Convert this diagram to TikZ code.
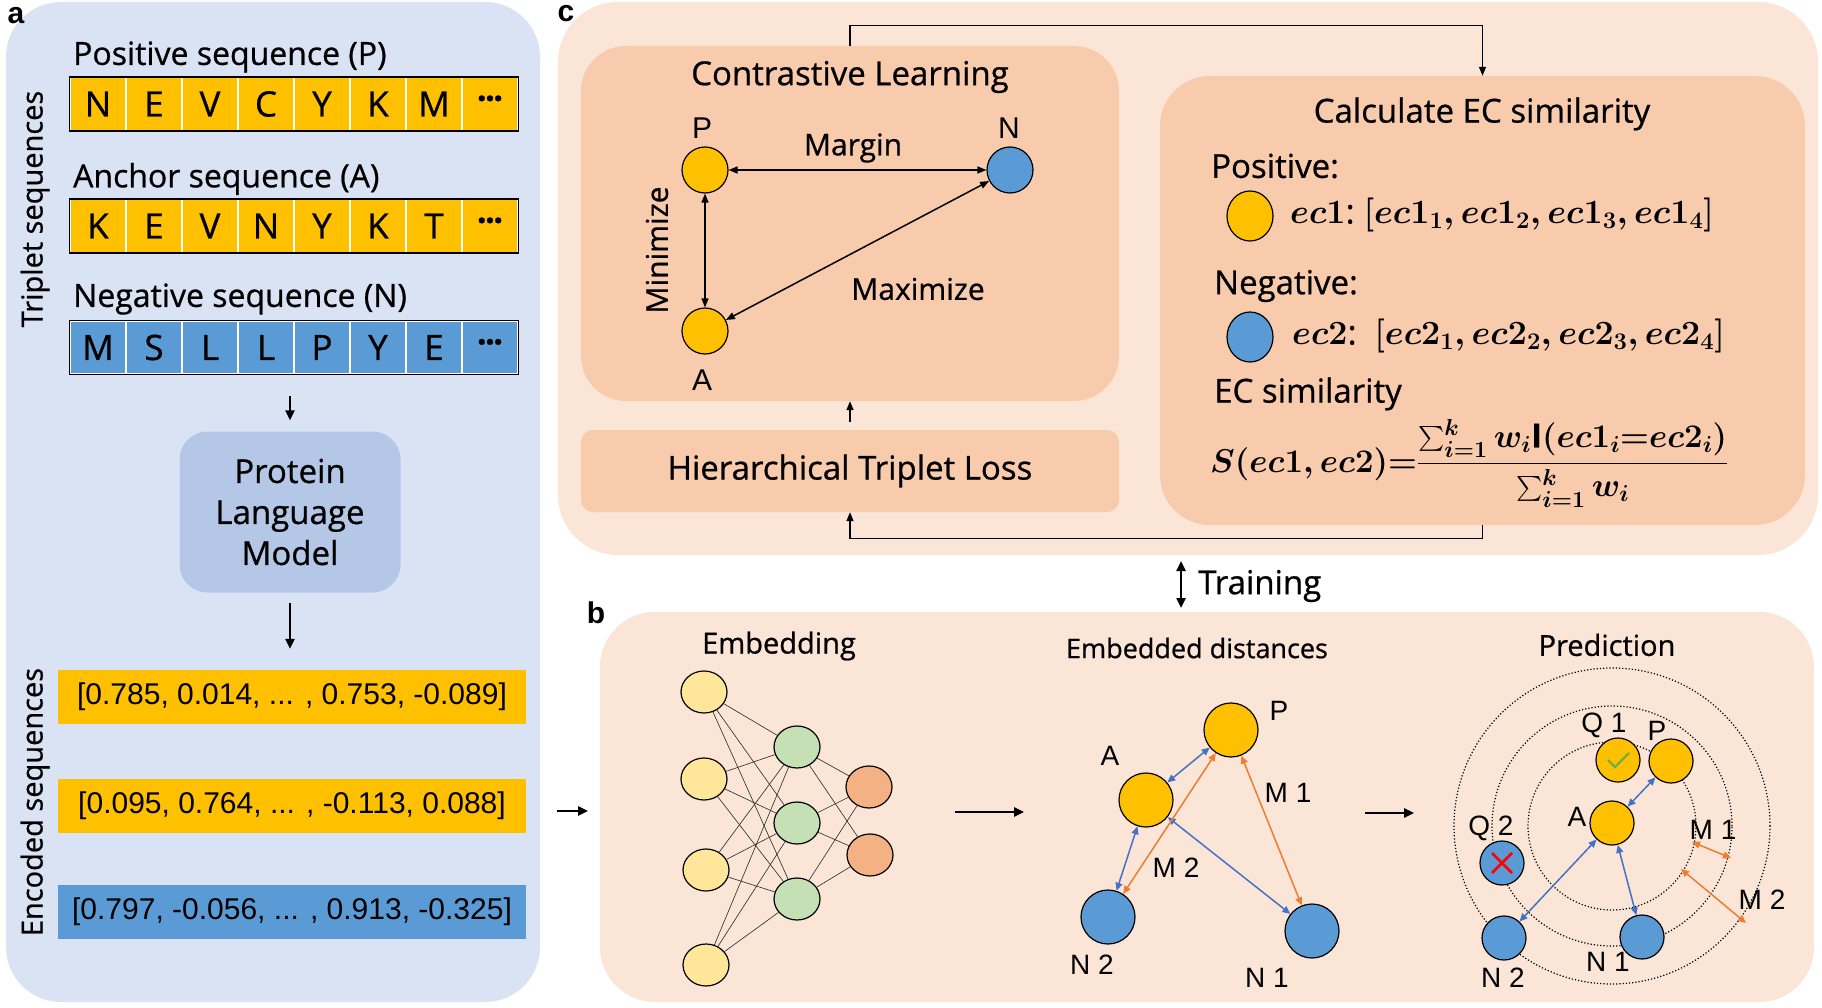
\RequirePackage{fix-cm}
\documentclass[tikz,border=0pt]{standalone}
\usepackage{exscale}
\usepackage{fontspec}
\setmainfont{Open Sans}[FakeBold=0.7]
\newfontfamily\arialf{Liberation Sans}
\usetikzlibrary{arrows.meta,calc,shapes.geometric}
\definecolor{bgblue}{HTML}{DAE3F3}
\definecolor{plmblue}{HTML}{B4C7E7}
\definecolor{seqyellow}{HTML}{FFC000}
\definecolor{seqblue}{HTML}{5B9BD5}
\definecolor{bgpeach}{HTML}{FBE5D6}
\definecolor{boxpeach}{HTML}{F8CBAD}
\definecolor{arrorange}{HTML}{ED7D31}
\definecolor{arrblue}{HTML}{4472C4}
\definecolor{nnyellow}{HTML}{FFE699}
\definecolor{nngreen}{HTML}{C5E0B4}
\definecolor{nnorange}{HTML}{F4B183}
\definecolor{chkgreen}{HTML}{70AD47}
\newcommand\myfs[2]{\fontsize{#1}{#2}\selectfont}
\newcommand\mydots{\raisebox{0.05em}{\textbf{·\kern-0.05em·\kern-0.05em·}}}
\newcommand\econe{$ec1$:\ $[ec1_1, ec1_2, ec1_3, ec1_4]$}
\newcommand\ectwo{$ec2$:\ \ $[ec2_1, ec2_2, ec2_3, ec2_4]$}
\newcommand\ecform{$\smash{\displaystyle S(ec1,ec2){=}\frac{\sum_{i=1}^{k} w_i\mathrm{I}(ec1_i{=}ec2_i)}{\sum_{i=1}^{k} w_i}}$}
\begin{document}
\begin{tikzpicture}[x=1pt,y=-1pt,
  seqcell/.style={minimum width=56pt,minimum height=53pt,draw=white,line width=1.2pt,inner sep=0pt,font=\myfs{35}{40}},
  ttl/.style={inner sep=0pt,font=\myfs{32}{38}},
  vtl/.style={inner sep=0pt,font=\myfs{29}{34},rotate=90},
  btl/.style={inner sep=0pt,font=\myfs{29}{34}},
  lab/.style={inner sep=0pt,font=\arialf\myfs{30}{34}},
  slab/.style={inner sep=0pt,font=\arialf\myfs{28}{32}},
  plab/.style={inner sep=0pt,font=\arialf\bfseries\myfs{30}{34}},
  mathlab/.style={inner sep=0pt,anchor=west,font=\myfs{34}{40}\mathversion{bold}},
  encbox/.style={minimum width=468pt,minimum height=54pt,inner sep=0pt,font=\arialf\myfs{30}{36}},
  circ/.style={circle,draw=black,line width=1.2pt,minimum size=46pt,inner sep=0pt},
  ecirc/.style={circle,draw=black,line width=1.2pt,minimum size=54pt,inner sep=0pt},
  pcirc/.style={circle,draw=black,line width=1.2pt,minimum size=44pt,inner sep=0pt},
  nnode/.style={ellipse,draw=black,line width=1.2pt,minimum width=46pt,minimum height=42pt,inner sep=0pt},
  nnline/.style={line width=0.6pt,black!85},
  thickarr/.style={line width=2.4pt,-{Triangle[length=10pt,width=9pt]}},
  arr1/.style={line width=1.4pt,-{Triangle[length=9pt,width=7pt]}},
  darr/.style={line width=1.5pt,{Triangle[length=9pt,width=7pt]}-{Triangle[length=9pt,width=7pt]}},
  barr/.style={line width=1.5pt,arrblue,{Triangle[length=8pt,width=7pt]}-{Triangle[length=8pt,width=7pt]}},
  oarr/.style={line width=1.5pt,arrorange,{Triangle[length=8pt,width=7pt]}-{Triangle[length=8pt,width=7pt]}},
  dotc/.style={line width=1.2pt,dotted}
]
\useasboundingbox (0,0) rectangle (1822,1008);
\fill[white] (0,0) rectangle (1822,1008);

% ================= panel a =================
\fill[bgblue,rounded corners=55pt] (6,2) rectangle (540,1002);
\node[plab] (la) at (16,16) {a};
\node[vtl] (trip) at (35,209) {Triplet sequences};

\node[ttl,anchor=west] (ptitle) at (73,57) {Positive sequence (P)};
\foreach \l [count=\i] in {N,E,V,C,Y,K,M,\mydots}
  \node[seqcell,fill=seqyellow] (p\i) at ({42+56*\i},104) {\l};
\draw[line width=1.4pt] (p1.north west) rectangle (p8.south east);

\node[ttl,anchor=west] (atitle) at (73,179) {Anchor sequence (A)};
\foreach \l [count=\i] in {K,E,V,N,Y,K,T,\mydots}
  \node[seqcell,fill=seqyellow] (a\i) at ({42+56*\i},226) {\l};
\draw[line width=1.4pt] (a1.north west) rectangle (a8.south east);

\node[ttl,anchor=west] (ntitle) at (73,299) {Negative sequence (N)};
\foreach \l [count=\i] in {M,S,L,L,P,Y,E,\mydots}
  \node[seqcell,fill=seqblue] (n\i) at ({42+56*\i},347.5) {\l};
\draw[line width=1.4pt] (n1.north west) rectangle (n8.south east);

\node[rounded corners=28pt,fill=plmblue,minimum width=221pt,minimum height=161pt,align=center,font=\myfs{33}{41}] (plm) at (290,512) {Protein\\Language\\Model};
\draw[thickarr,shorten <=21pt,shorten >=11pt] (plm.north |- n4.south) -- (plm.north);

\node[encbox,fill=seqyellow] (e1) at (292,697) {[0.785, 0.014, ... , 0.753, -0.089]};
\node[encbox,fill=seqyellow] (e2) at (292,806) {[0.095, 0.764, ... , -0.113, 0.088]};
\node[encbox,fill=seqblue] (e3) at (292,912) {[0.797, -0.056, ... , 0.913, -0.325]};
\draw[thickarr,shorten <=10pt,shorten >=21pt] (plm.south) -- (plm.south |- e1.north);
\node[vtl] (encl) at (35,802) {Encoded sequences};

\coordinate (ab1) at (557,811);
\coordinate (ab2) at (588,811);
\draw[thickarr] (ab1) -- (ab2);

% ================= panel c =================
\fill[bgpeach,rounded corners=60pt] (558,2) rectangle (1818,555);
\node[plab] (lc) at (566,14) {c};

\node[fill=boxpeach,rounded corners=45pt,minimum width=538pt,minimum height=355pt] (cl) at (850,223.5) {};
\node[ttl,font=\myfs{33}{38}] (cltitle) at (850,77) {Contrastive Learning};
\node[circ,fill=seqyellow] (cP) at (705,170) {};
\node[circ,fill=seqblue] (cN) at (1010,170) {};
\node[circ,fill=seqyellow] (cA) at (705,331) {};
\node[lab] (cPl) at (702,128) {P};
\node[lab] (cNl) at (1009,128) {N};
\node[lab] (cAl) at (702,380) {A};
\draw[darr] (cP) -- (cN);
\draw[darr] (cP) -- (cA);
\draw[darr] (cA) -- (cN);
\node[btl,font=\myfs{30}{34}] (margin) at (853,148) {Margin};
\node[btl,font=\myfs{30}{34}] (maxi) at (918,289) {Maximize};
\node[btl,font=\myfs{30}{34},rotate=90] (mini) at (657,250) {Minimize};

\node[fill=boxpeach,rounded corners=12pt,minimum width=538pt,minimum height=82pt,font=\myfs{33}{38}] (htl) at (850,471) {Hierarchical Triplet Loss};
\draw[arr1,shorten <=8pt] (htl.north) -- (cl.south);

\node[fill=boxpeach,rounded corners=50pt,minimum width=645pt,minimum height=449pt] (ec) at (1482.5,300.5) {};
\node[ttl,font=\myfs{33}{38}] (ectitle) at (1482,114) {Calculate EC similarity};
\node[ttl,anchor=west,font=\myfs{33}{38}] (pos) at (1211,166) {Positive:};
\node[ellipse,draw=black,line width=1.2pt,fill=seqyellow,minimum width=46pt,minimum height=50pt,inner sep=0pt] (ecy) at (1250,216) {};
\node[mathlab] (ecot) at (1290,215) {\econe};
\node[ttl,anchor=west,font=\myfs{33}{38}] (neg) at (1214,286) {Negative:};
\node[ellipse,draw=black,line width=1.2pt,fill=seqblue,minimum width=46pt,minimum height=50pt,inner sep=0pt] (ecb) at (1250,337) {};
\node[mathlab] (ectt) at (1292,336) {\ectwo};
\node[ttl,anchor=west,font=\myfs{33}{38}] (ecs) at (1214,394) {EC similarity};
\node[mathlab,font=\myfs{33}{38}\mathversion{bold}] (form) at (1210,472) {\ecform};

\draw[arr1] (cl.north) -- ++(0,-20) -| (ec.north);
\draw[arr1] (ec.south) -- ++(0,13) -| (htl.south);

% training
\coordinate (tr1) at (1181,561);
\coordinate (tr2) at (1181,608);
\draw[line width=2.4pt,{Triangle[length=10pt,width=9pt]}-{Triangle[length=10pt,width=9pt]}] (tr1) -- (tr2);
\node[ttl,anchor=west,font=\myfs{33}{38}] (train) at (1198,586) {Training};

% ================= panel b =================
\fill[bgpeach,rounded corners=55pt] (600,612) rectangle (1814,1002);
\node[plab] (lb) at (596,613) {b};

\node[btl] (embt) at (779,646) {Embedding};
\node[nnode,fill=nnyellow] (i1) at (704,692) {};
\node[nnode,fill=nnyellow] (i2) at (704,779) {};
\node[nnode,fill=nnyellow] (i3) at (706,870) {};
\node[nnode,fill=nnyellow] (i4) at (706,965) {};
\node[nnode,fill=nngreen] (h1) at (797,747) {};
\node[nnode,fill=nngreen] (h2) at (797,823) {};
\node[nnode,fill=nngreen] (h3) at (797,899) {};
\node[nnode,fill=nnorange] (o1) at (869,787) {};
\node[nnode,fill=nnorange] (o2) at (870,855) {};
\foreach \a in {1,2,3,4} \foreach \b in {1,2,3} \draw[nnline] (i\a) -- (h\b);
\foreach \a in {1,2,3} \foreach \b in {1,2} \draw[nnline] (h\a) -- (o\b);

\coordinate (bb1) at (955,812);
\coordinate (bb2) at (1024,812);
\draw[thickarr] (bb1) -- (bb2);

\node[btl,font=\myfs{27}{32}] (edt) at (1197,648) {Embedded distances};
\node[ecirc,fill=seqyellow] (eP) at (1231,730) {};
\node[ecirc,fill=seqyellow] (eA) at (1146,800) {};
\node[ecirc,fill=seqblue] (eN2) at (1108,917) {};
\node[ecirc,fill=seqblue] (eN1) at (1312,931) {};
\draw[barr] (eA) -- (eP);
\draw[barr] (eA) -- (eN2);
\draw[barr] (eA) -- (eN1);
\draw[oarr] (eP) -- (eN2);
\draw[oarr] (eP) -- (eN1);
\node[slab] (ePl) at (1279,711) {P};
\node[slab] (eAl) at (1110,756) {A};
\node[slab] (eM1) at (1288,793) {M 1};
\node[slab] (eM2) at (1176,868) {M 2};
\node[slab] (eN2l) at (1092,965) {N 2};
\node[slab] (eN1l) at (1267,978) {N 1};

\coordinate (cc1) at (1365,813);
\coordinate (cc2) at (1414,813);
\draw[thickarr] (cc1) -- (cc2);

\node[btl] (predt) at (1607,645) {Prediction};
\coordinate (pc) at (1612,826);
\draw[dotc] (pc) circle[radius=84pt];
\draw[dotc] (pc) circle[radius=120pt];
\draw[dotc] (pc) circle[radius=158pt];
\node[pcirc,fill=seqyellow] (qA) at (1612,823) {};
\node[pcirc,fill=seqyellow] (qQ1) at (1618,760) {};
\node[pcirc,fill=seqyellow] (qP) at (1671,761) {};
\node[pcirc,fill=seqblue] (qQ2) at (1502,863) {};
\node[pcirc,fill=seqblue] (qN2) at (1504,938) {};
\node[pcirc,fill=seqblue] (qN1) at (1642,937) {};
\draw[chkgreen,line width=2.2pt] ($(qQ1)+(-10,0)$) -- ($(qQ1)+(-3,7)$) -- ($(qQ1)+(11,-7)$);
\draw[red,line width=2.6pt] ($(qQ2)+(-10,-10)$) -- ($(qQ2)+(10,10)$);
\draw[red,line width=2.6pt] ($(qQ2)+(-10,10)$) -- ($(qQ2)+(10,-10)$);
\draw[barr] (qA) -- (qP);
\draw[barr] (qA) -- (qN2);
\draw[barr] (qA) -- (qN1);
\coordinate (m1a) at (1692,842);
\coordinate (m1b) at (1731,858);
\coordinate (m2a) at (1681,869);
\coordinate (m2b) at (1746,923);
\draw[oarr] (m1a) -- (m1b);
\draw[oarr] (m2a) -- (m2b);
\node[slab] (qQ1l) at (1604,725) {Q 1};
\node[slab] (qPl) at (1657,731) {P};
\node[slab] (qAl) at (1577,817) {A};
\node[slab] (qQ2l) at (1491,828) {Q 2};
\node[slab] (qM1l) at (1713,830) {M 1};
\node[slab] (qM2l) at (1762,900) {M 2};
\node[slab] (qN2l) at (1503,978) {N 2};
\node[slab] (qN1l) at (1608,962) {N 1};
\end{tikzpicture}
\end{document}
